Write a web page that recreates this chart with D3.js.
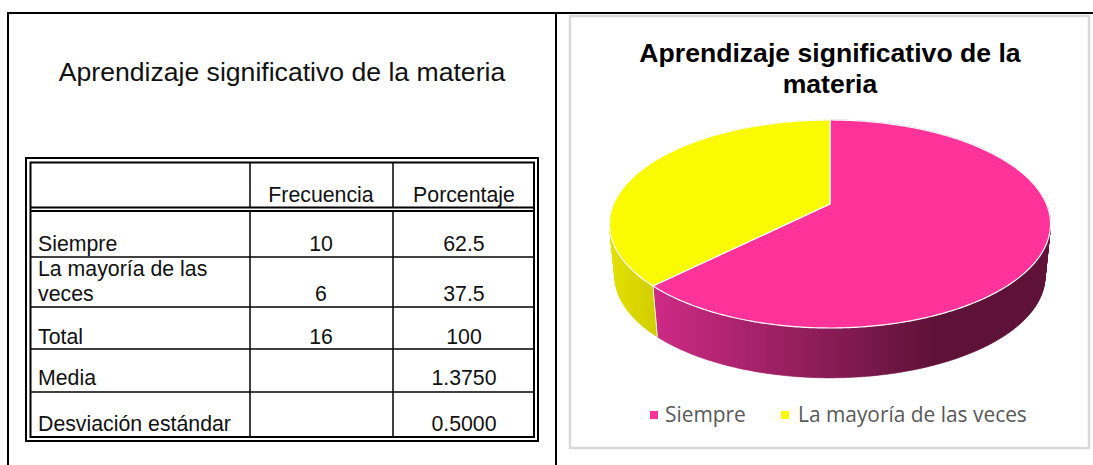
<!DOCTYPE html>
<html>
<head>
<meta charset="utf-8">
<script src="https://cdn.jsdelivr.net/npm/d3@7"></script>
<style>
	html, body { margin: 0; padding: 0; background: #fff; overflow: hidden; }
	text { font-family: "Liberation Sans", Arial, sans-serif; }
</style>
</head>
<body>
<svg id="chart" width="1093" height="465"></svg>
<script>
const titleText = 'Aprendizaje significativo de la materia';
const chartTitle = ['Aprendizaje significativo de la', 'materia'];
const categories = ['Siempre', 'La mayoría de las veces'];
const percentages = [62.5, 37.5];
const topColors = ['#ff3399', '#fafa00'];

const colHeaders = ['Frecuencia', 'Porcentaje'];
const rowLabels = [['Siempre'], ['La mayoría de las', 'veces'], ['Total'], ['Media'], ['Desviación estándar']];
const freqColumn = ['10', '6', '16', '', ''];
const pctColumn = ['62.5', '37.5', '100', '1.3750', '0.5000'];
const rowLines = [257, 307, 349, 392];
const rowBaselines = [251, 301, 344, 385, 431];

const svg = d3.select('#chart');

function line(g, x1, y1, x2, y2, w, color) {
	g.append('line')
		.attr('x1', x1).attr('y1', y1).attr('x2', x2).attr('y2', y2)
		.attr('stroke', color || '#000').attr('stroke-width', w);
}

// page frame
const frame = svg.append('g');
line(frame, 7, 13, 1093, 13, 2);
line(frame, 8, 13, 8, 465, 2);
line(frame, 556, 13, 556, 465, 2);

svg.append('text')
	.attr('x', 282).attr('y', 81)
	.attr('text-anchor', 'middle')
	.style('font-size', '26.6px')
	.style('fill', '#111')
	.text(titleText);

// table
const table = svg.append('g');
table.append('rect').attr('x', 26).attr('y', 158).attr('width', 512).attr('height', 283)
	.attr('fill', 'none').attr('stroke', '#000').attr('stroke-width', 2);
table.append('rect').attr('x', 30.5).attr('y', 162.5).attr('width', 503.5).attr('height', 274.5)
	.attr('fill', 'none').attr('stroke', '#000').attr('stroke-width', 2);
line(table, 30, 207.5, 534, 207.5, 2);
line(table, 30, 211, 534, 211, 2);
line(table, 250, 162, 250, 208, 1.5);
line(table, 250, 211, 250, 437, 1.5);
line(table, 393, 162, 393, 208, 1.5);
line(table, 393, 211, 393, 437, 1.5);
rowLines.forEach(y => line(table, 30, y, 534, y, 1.5));

const cellFont = '21.3px';
colHeaders.forEach((h, i) => {
	table.append('text')
		.attr('x', i === 0 ? 321 : 464).attr('y', 202)
		.attr('text-anchor', 'middle')
		.style('font-size', cellFont).style('fill', '#111')
		.text(h);
});
rowLabels.forEach((lines, i) => {
	lines.forEach((t, j) => {
		table.append('text')
			.attr('x', 38)
			.attr('y', rowBaselines[i] - (lines.length - 1 - j) * 25)
			.style('font-size', cellFont).style('fill', '#111')
			.text(t);
	});
	[freqColumn[i], pctColumn[i]].forEach((v, k) => {
		table.append('text')
			.attr('x', k === 0 ? 321 : 464).attr('y', rowBaselines[i])
			.attr('text-anchor', 'middle')
			.style('font-size', cellFont).style('fill', '#111')
			.text(v);
	});
});

// chart box
svg.append('rect').attr('x', 570).attr('y', 16).attr('width', 519).attr('height', 432)
	.attr('fill', '#fff').attr('stroke', '#d9d9d9').attr('stroke-width', 2.5);

chartTitle.forEach((t, i) => {
	svg.append('text')
		.attr('x', 830).attr('y', 62 + i * 31)
		.attr('text-anchor', 'middle')
		.style('font-size', '26.6px').style('font-weight', 'bold').style('fill', '#000')
		.text(t);
});

// 3d pie: disc in perspective, the centre sits above the middle of the ellipse
const cx = 830, cy = 204, sx = 216.4, sy = 100.15, tilt = 0.1923;
const lowerScale = 0.975, lowerCy = 257;

function project(angle, lower) {
	const u = Math.sin(angle), v = -Math.cos(angle), w = 1 - tilt * v;
	const s = lower ? lowerScale : 1;
	return [cx + s * sx * u / w, (lower ? lowerCy : cy) + s * sy * v / w];
}

function rim(a0, a1, lower) {
	const n = Math.ceil(Math.abs(a1 - a0) / 0.01);
	return d3.range(n + 1).map(i => project(a0 + (a1 - a0) * i / n, lower));
}

const pieData = d3.pie().sort(null)(percentages);
const path = d3.line();

const defs = svg.append('defs');
function sideGradient(id, x1, x2, from, to) {
	const g = defs.append('linearGradient').attr('id', id).attr('gradientUnits', 'userSpaceOnUse')
		.attr('x1', x1).attr('x2', x2).attr('y1', 0).attr('y2', 0);
	g.append('stop').attr('offset', 0).attr('stop-color', from);
	g.append('stop').attr('offset', 1).attr('stop-color', to);
}
sideGradient('side0', 658, 935, '#cc2a84', '#5e1238');
sideGradient('side1', 612, 660, '#e2e000', '#cfcc00');

const pie3d = svg.append('g');

// walls first, tops go over them. one quad per rim step so the outline
// follows the tangent between the two discs
pieData.forEach((d, i) => {
	const upper = rim(d.startAngle, d.endAngle, false);
	const lower = rim(d.startAngle, d.endAngle, true);
	const quads = d3.pairs(d3.range(upper.length)).map(([a, b]) =>
		path([upper[a], upper[b], lower[b], lower[a]]) + 'Z');
	pie3d.append('path')
		.attr('d', quads.join(''))
		.attr('fill', `url(#side${i})`)
		.attr('stroke', `url(#side${i})`)
		.attr('stroke-width', 0.5);
});
const seam = project(pieData[1].startAngle, false), seamLow = project(pieData[1].startAngle, true);
line(pie3d, seam[0], seam[1], seamLow[0], seamLow[1], 1, '#f4f4e0');

pieData.forEach((d, i) => {
	const pts = [[cx, cy]].concat(rim(d.startAngle, d.endAngle, false));
	pie3d.append('path')
		.attr('d', path(pts) + 'Z')
		.attr('fill', topColors[i])
		.attr('stroke', '#fff')
		.attr('stroke-width', 1.2)
		.attr('stroke-linejoin', 'round');
});

// legend
const legendX = [650, 781];
const legendTextX = [665, 798];
categories.forEach((c, i) => {
	svg.append('rect')
		.attr('x', legendX[i]).attr('y', 411).attr('width', 8).attr('height', 8)
		.attr('fill', topColors[i]);
	svg.append('text')
		.attr('x', legendTextX[i]).attr('y', 422)
		.style('font-family', '"Open Sans", sans-serif')
		.style('font-size', '20.9px')
		.style('fill', '#595959')
		.text(c);
});
</script>
</body>
</html>
